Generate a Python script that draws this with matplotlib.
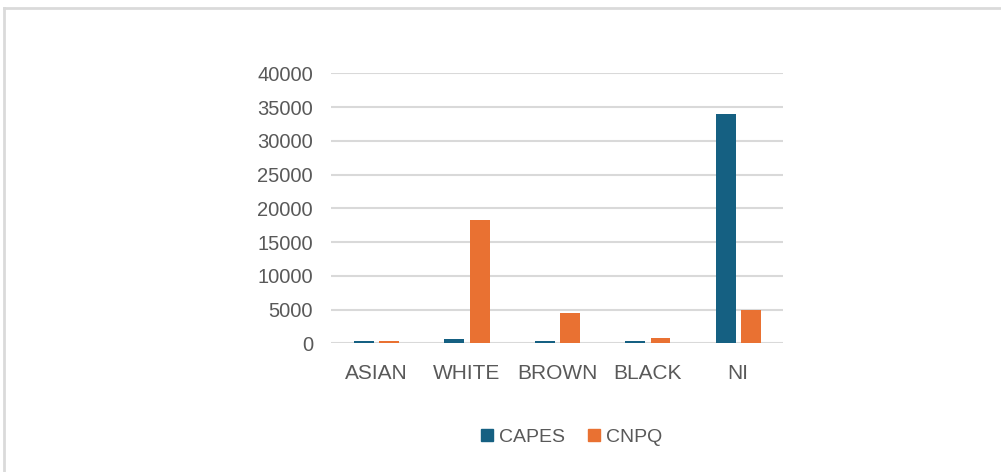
import matplotlib
matplotlib.use("Agg")
import matplotlib.pyplot as plt
from matplotlib.lines import Line2D
import numpy as np

categories = ["ASIAN", "WHITE", "BROWN", "BLACK", "NI"]
capes = [350, 600, 300, 300, 34000]
cnpq = [350, 18200, 4500, 800, 4900]
yticks = [0, 5000, 10000, 15000, 20000, 25000, 30000, 35000, 40000]

W, H = 1001, 472
fig = plt.figure(figsize=(W / 100, H / 100), dpi=100)
plt.rcParams['font.family'] = ['Liberation Sans', 'DejaVu Sans']

# frame lines (top and left only)
fig.add_artist(Line2D([3.5 / W, 1.0], [1 - 8 / H, 1 - 8 / H], transform=fig.transFigure,
                      color="#DADADA", lw=2))
fig.add_artist(Line2D([3.5 / W, 3.5 / W], [0, 1 - 8 / H], transform=fig.transFigure,
                      color="#DADADA", lw=2))

ax = fig.add_axes([331 / W, 1 - 343.3 / H, (783 - 331) / W, (343.3 - 73.3) / H])
x = np.arange(len(categories))
bw = 0.22
ax.bar(x - 0.135, capes, bw, color="#156082", label="CAPES", zorder=3)
ax.bar(x + 0.145, cnpq, bw, color="#E97132", label="CNPQ", zorder=3)

ax.set_xlim(-0.5, len(categories) - 0.5)
ax.set_ylim(0, 40000)
ax.set_yticks(yticks)
ax.set_yticklabels([str(v) for v in yticks])
ax.set_xticks(x)
ax.set_xticklabels(categories)
ax.grid(axis="y", color="#D9D9D9", lw=1.5, zorder=0)
for s in ax.spines.values():
    s.set_visible(False)
ax.tick_params(axis="both", length=0, colors="#595959")
ax.tick_params(axis="y", pad=13, labelsize=14.5)
ax.tick_params(axis="x", pad=15, labelsize=15)

handles = [Line2D([], [], marker="s", linestyle="none", color="#156082", markersize=9),
           Line2D([], [], marker="s", linestyle="none", color="#E97132", markersize=9)]
leg = fig.legend(handles, ["CAPES", "CNPQ"], loc="center", bbox_to_anchor=(570 / W, 1 - 437 / H),
                 ncol=2, frameon=False, fontsize=14, handletextpad=0.1, columnspacing=1.0,
                 handlelength=1.0)
for t in leg.get_texts():
    t.set_color("#595959")

fig.savefig("out.png", dpi=100)
